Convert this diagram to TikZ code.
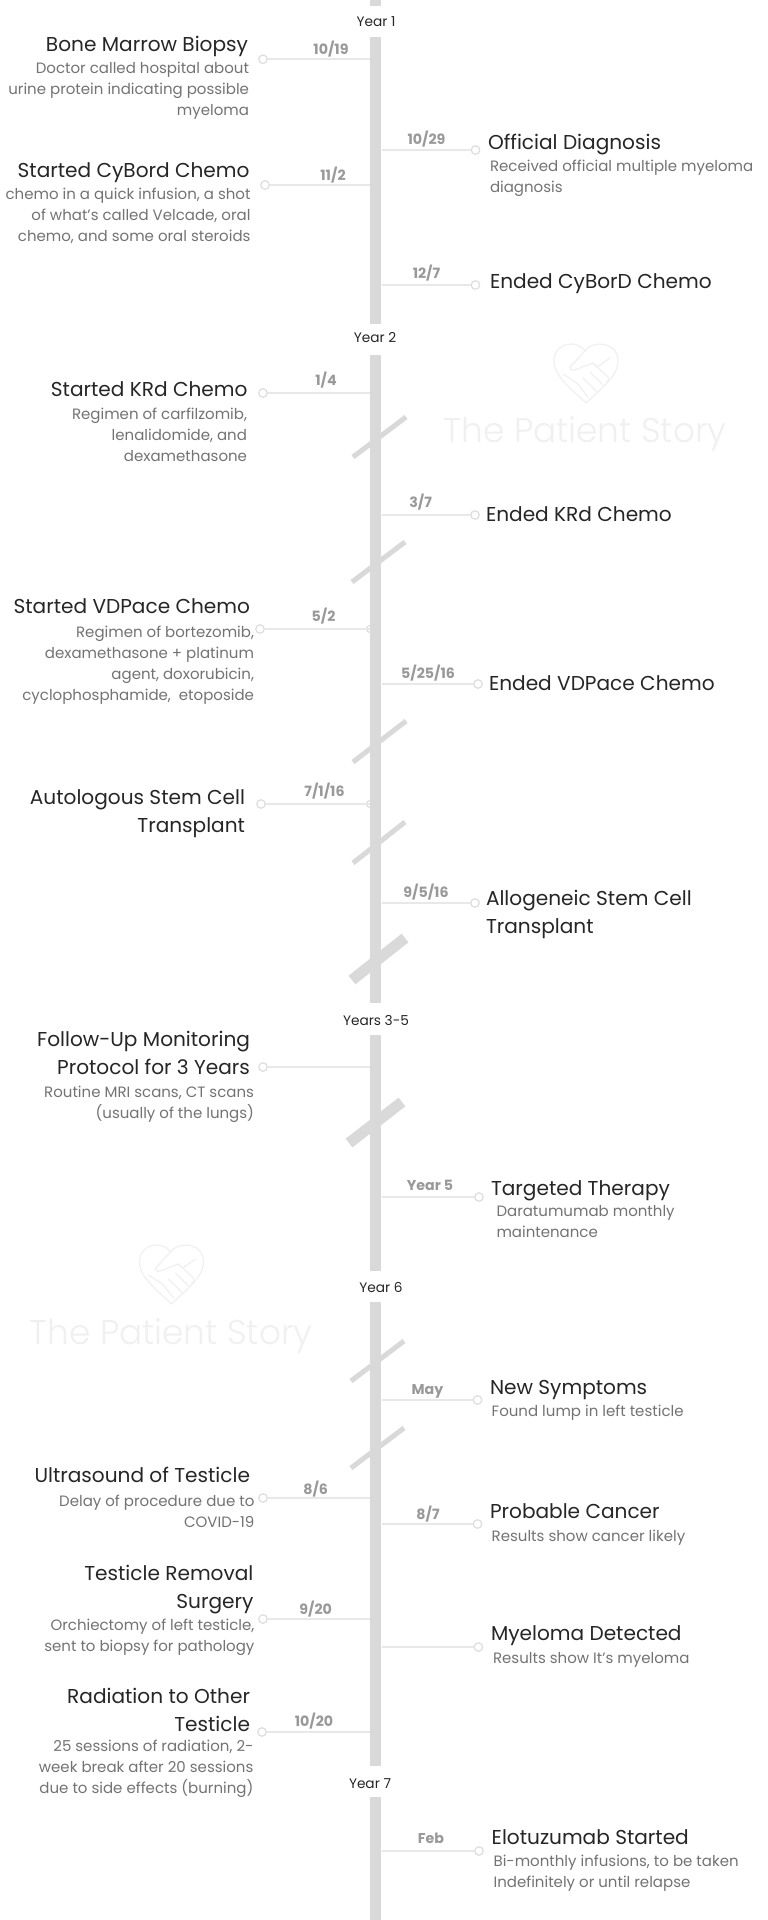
\documentclass[tikz,border=0pt]{standalone}
\usepackage{fontspec}
\setmainfont{Poppins}
\newfontfamily\wmfont{Poppins Light}
\definecolor{barc}{HTML}{D9D9D9}
\definecolor{linec}{HTML}{E8E8E8}
\definecolor{dotc}{HTML}{DDDDDD}
\definecolor{titlec}{HTML}{262626}
\definecolor{descc}{HTML}{737373}
\definecolor{datec}{HTML}{999999}
\definecolor{yearc}{HTML}{262626}
\definecolor{wmc}{HTML}{F0F0F0}
\tikzset{x=1pt,y=-1pt,
 bar/.style={line width=11.5pt,draw=barc},
 slash/.style={line width=5pt,draw=barc},
 slashthick/.style={line width=11pt,draw=barc},
 conn/.style={line width=1.8pt,draw=linec},
 enddot/.style={circle,draw=dotc,line width=1.2pt,fill=white,inner sep=0pt,minimum size=8.5pt},
 txt/.style={inner sep=0pt,outer sep=0pt,execute at begin node=\strut,execute at end node=\strut},
 title/.style={txt,yshift=-2.5pt,font=\fontsize{20.1}{28}\selectfont,text=titlec},
 desc/.style={txt,yshift=-2.5pt,font=\fontsize{15}{21}\selectfont,text=descc},
 date/.style={txt,yshift=-1.5pt,font=\fontsize{14.2}{24}\selectfont\bfseries,text=datec},
 yearlab/.style={txt,yshift=-1pt,font=\fontsize{13.7}{24}\selectfont,text=yearc},
 wmtext/.style={yshift=-1.5pt,font=\fontsize{34.3}{40}\selectfont\wmfont,text=wmc,inner sep=0pt,outer sep=0pt},
}
\newcommand{\heartmark}[1]{%
 \begin{scope}[shift={(#1)},draw=wmc,line width=1.2pt,line join=round,line cap=round]
  \draw (0,29) .. controls (-12,17) and (-32,3) .. (-32,-13) .. controls (-32,-33) and (-7,-34) .. (-1,-23) .. controls (6,-34) and (32,-33) .. (32,-13) .. controls (32,3) and (12,17) .. (0,29);
  \draw (-1,-23) -- (-16,-7) .. controls (-15,-3) and (-13,-3) .. (-11,-4) -- (-4,-7) -- (7,-11) -- (22,3) .. controls (24,5) and (22,8) .. (20,8);
  \draw (7,-11) .. controls (10,-6) and (12,-7) .. (14,-9) -- (24,-16);
  \draw (-9,9) -- (2,23);
  \draw (-3,4) -- (11,18);
  \draw (4,-2) -- (17,11);
  \draw (-23,0) -- (-9,9);
 \end{scope}}
\begin{document}
\begin{tikzpicture}
\useasboundingbox[fill=white] (0,0) rectangle (768,1920);
% watermark
\heartmark{586,374}
\node[wmtext] (wma) at (585,433) {The Patient Story};
\heartmark{171.5,1275}
\node[wmtext] (wmb) at (171,1334) {The Patient Story};
% stubs half hidden behind the bar
\node[enddot,minimum size=7pt] (gs) at (370,629) {};
\node[enddot,minimum size=7pt] (is) at (370,804) {};
% bar
\foreach \a/\b in {0/6,37/324,355/1003,1035/1271,1302/1766,1797/1920}{\draw[bar] (375.7,\a) -- (375.7,\b);}
% slashes
\draw[slash] (353,457) -- (406,417);
\draw[slash] (352,582) -- (405,542);
\draw[slash] (353,762) -- (406,721);
\draw[slash] (353,863) -- (405,822);
\draw[slashthick] (352,980) -- (405,938);
\draw[slashthick] (349,1143) -- (402,1102);
\draw[slash] (351,1381) -- (404,1341);
\draw[slash] (351,1468) -- (404,1428);
% years
\node[yearlab] (y1) at (376,21) {Year 1};
\node[yearlab] (y2) at (375,337) {Year 2};
\node[yearlab] (y3) at (376,1020) {Years 3-5};
\node[yearlab] (y6) at (381,1287) {Year 6};
\node[yearlab] (y7) at (370,1783) {Year 7};
% macros: name, dotx, liney, date position, date
\newcommand{\levent}[5]{%
 \coordinate (#1b) at (370,#3);
 \node[enddot] (#1d) at (#2,#3) {};
 \draw[conn] (#1b) -- (#1d);
 \if\relax\detokenize{#5}\relax\else\node[date] (#1t) at (#4) {#5};\fi}
\newcommand{\revent}[5]{%
 \coordinate (#1b) at (381.5,#3);
 \node[enddot] (#1d) at (#2,#3) {};
 \draw[conn] (#1b) -- (#1d);
 \if\relax\detokenize{#5}\relax\else\node[date] (#1t) at (#4) {#5};\fi}
% events
\levent{a}{263}{59.3}{331,48}{10/19}
\node[title,anchor=east] (an) at (248,43) {Bone Marrow Biopsy};
\node[desc,anchor=east,align=right] (ad) at (249,89) {Doctor called hospital about\\urine protein indicating possible\\myeloma};
\revent{b}{475.5}{150}{426.5,138}{10/29}
\node[title,anchor=west] (bn) at (488,141) {Official Diagnosis};
\node[desc,anchor=west,align=left] (bd) at (490,176.5) {Received official multiple myeloma\\diagnosis};
\levent{c}{265}{185}{333,174}{11/2}
\node[title,anchor=east] (cn) at (249.5,169) {Started CyBord Chemo};
\node[desc,anchor=east,align=right] (cd) at (250.5,215) {chemo in a quick infusion, a shot\\of what's called Velcade, oral\\chemo, and some oral steroids};
\revent{d}{475.5}{285}{426.5,272}{12/7}
\node[title,anchor=west] (dn) at (490,280) {Ended CyBorD Chemo};
\levent{e}{263}{393}{326,379}{1/4}
\node[title,anchor=east] (en) at (247.5,388) {Started KRd Chemo};
\node[desc,anchor=east,align=right] (ed) at (247,435) {Regimen of carfilzomib,\\lenalidomide, and\\dexamethasone};
\revent{f}{475}{515}{420.6,501}{3/7}
\node[title,anchor=west] (fn) at (486,513) {Ended KRd Chemo};
\levent{g}{260}{629}{323.5,615}{5/2}
\node[title,anchor=east] (gn) at (250,605) {Started VDPace Chemo};
\node[desc,anchor=east,align=right] (gd) at (254,663.5) {Regimen of bortezomib,\\dexamethasone + platinum\\agent, doxorubicin,\\cyclophosphamide,~ etoposide};
\revent{h}{478}{684}{428,672}{5/25/16}
\node[title,anchor=west] (hn) at (489,682) {Ended VDPace Chemo};
\levent{i}{261}{804}{324.5,790}{7/1/16}
\node[title,anchor=east,align=right] (in) at (245,813) {Autologous Stem Cell\\Transplant};
\revent{j}{475}{903}{426,891}{9/5/16}
\node[title,anchor=west,align=left] (jn) at (486,914) {Allogeneic Stem Cell\\Transplant};
\levent{k}{263}{1067}{0,0}{}
\node[title,anchor=east,align=right] (kn) at (250,1055) {Follow-Up Monitoring\\Protocol for 3 Years};
\node[desc,anchor=east,align=right] (kd) at (254,1102.5) {Routine MRI scans, CT scans\\(usually of the lungs)};
\revent{l}{479}{1197}{430,1184}{Year 5}
\node[title,anchor=west] (ln) at (491,1187) {Targeted Therapy};
\node[desc,anchor=west,align=left] (ld) at (496.5,1222.5) {Daratumumab monthly\\maintenance};
\revent{m}{477.5}{1400}{427.5,1388}{May}
\node[title,anchor=west] (mn) at (490,1386) {New Symptoms};
\node[desc,anchor=west] (md) at (491.7,1410) {Found lump in left testicle};
\levent{n}{263}{1498}{315.7,1488}{8/6}
\node[title,anchor=east] (nn) at (250,1474) {Ultrasound of Testicle};
\node[desc,anchor=east,align=right] (nd) at (254.4,1511.5) {Delay of procedure due to\\COVID-19};
\revent{o}{477.5}{1524}{428,1513}{8/7}
\node[title,anchor=west] (on) at (490,1510) {Probable Cancer};
\node[desc,anchor=west] (od) at (491.7,1535) {Results show cancer likely};
\levent{p}{263}{1619}{315.7,1608}{9/20}
\node[title,anchor=east,align=right] (pn) at (253.4,1589) {Testicle Removal\\Surgery};
\node[desc,anchor=east,align=right] (pd) at (254.4,1635.5) {Orchiectomy of left testicle,\\sent to biopsy for pathology};
\revent{q}{478.4}{1647}{0,0}{}
\node[title,anchor=west] (qn) at (491,1632) {Myeloma Detected};
\node[desc,anchor=west] (qd) at (493,1657) {Results show It's myeloma};
\levent{r}{262}{1732}{314,1720}{10/20}
\node[title,anchor=east,align=right] (rn) at (250,1712) {Radiation to Other\\Testicle};
\node[desc,anchor=east,align=right] (rd) at (253.4,1767) {25 sessions of radiation, 2-\\week break after 20 sessions\\due to side effects (burning)\hspace{3.4pt}};
\revent{s}{479}{1851}{431,1837}{Feb}
\node[title,anchor=west] (sn) at (491.7,1836) {Elotuzumab Started};
\node[desc,anchor=west,align=left] (sd) at (493.6,1871.5) {Bi-monthly infusions, to be taken\\Indefinitely or until relapse};
\end{tikzpicture}
\end{document}
